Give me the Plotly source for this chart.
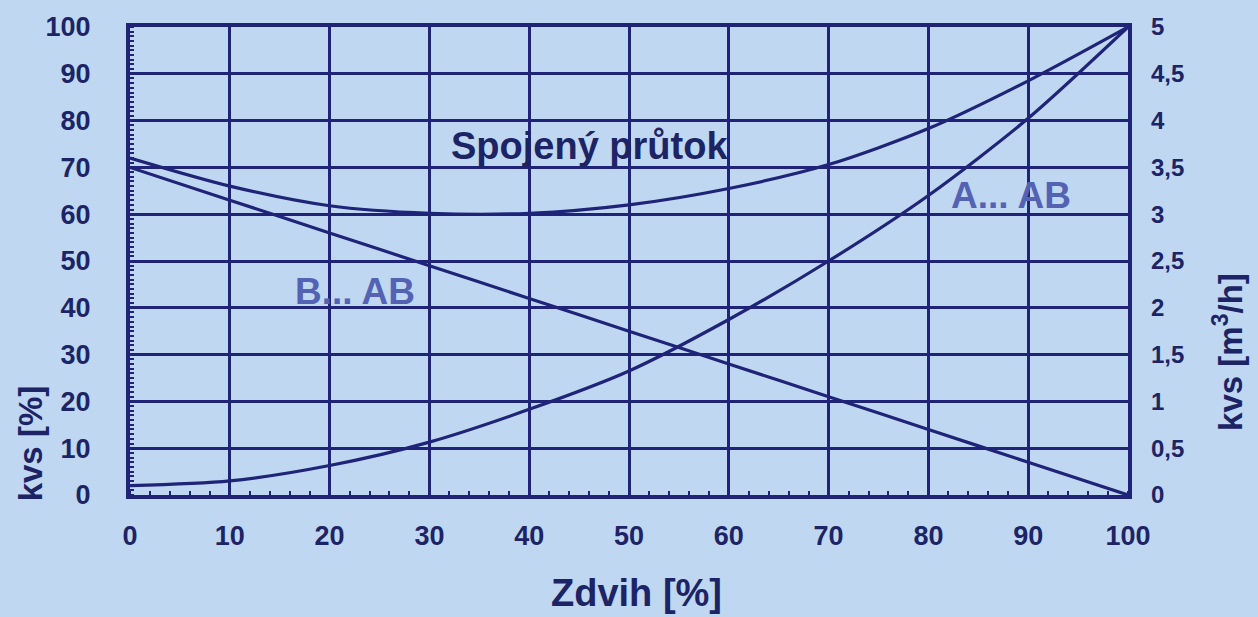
import plotly.graph_objects as go

zdvih = [0, 10, 20, 30, 40, 50, 60, 70, 80, 90, 100]
a_ab = [2, 3, 6.3, 11.3, 18.3, 26.5, 37.5, 50, 64, 80.5, 100]
b_ab = [70, 63, 56, 49, 42, 35, 28, 21, 14, 7, 0]
spojeny = [72, 66, 61.8, 60.2, 60.2, 62, 65.5, 70.6, 78.3, 88.5, 100]

x_ticks = [0, 10, 20, 30, 40, 50, 60, 70, 80, 90, 100]
y_ticks = [0, 10, 20, 30, 40, 50, 60, 70, 80, 90, 100]
y2_ticks = [0, 0.5, 1, 1.5, 2, 2.5, 3, 3.5, 4, 4.5, 5]
y2_labels = ["0", "0,5", "1", "1,5", "2", "2,5", "3", "3,5", "4", "4,5", "5"]

NAVY = "#1f2478"
TEXT = "#1c2466"
LABEL = "#5462b4"
BG = "#bfd7f1"
FONT = "Liberation Sans, Arial, sans-serif"

W, H = 1258, 617
L, R, T, B = 130, 130, 24, 122
pw, ph = W - L - R, H - T - B

fig = go.Figure()
for ys in (b_ab, a_ab, spojeny):
    fig.add_trace(go.Scatter(x=zdvih, y=ys, mode="lines",
                             line=dict(color=NAVY, width=3.2, shape="spline", smoothing=0.8),
                             showlegend=False, hoverinfo="skip"))

fig.add_trace(go.Scatter(x=zdvih, y=[v * 0.05 for v in spojeny], yaxis="y2",
                         mode="lines", line=dict(width=0), opacity=0,
                         showlegend=False, hoverinfo="skip"))

axis_common = dict(showgrid=True, gridcolor=NAVY, gridwidth=2.5,
                   showline=True, linecolor=NAVY, linewidth=4, mirror=True,
                   zeroline=False, ticks="",
                   tickfont=dict(family=FONT, size=27, color=TEXT, weight="bold"))


def px_to_paper(px, py):
    return (px - L) / pw, (H - B - py) / ph


ann_font = dict(family=FONT, color=TEXT, weight="bold")
zx, zy = px_to_paper(636, 594)
lx, ly = px_to_paper(30, 443)
rx, ry = px_to_paper(1228, 351)

fig.update_layout(
    width=W, height=H,
    paper_bgcolor=BG, plot_bgcolor=BG,
    margin=dict(l=L, r=R, t=T, b=B),
    xaxis=dict(range=[0, 100], tickvals=x_ticks, ticklabelstandoff=14,
               minor=dict(ticks="inside", dtick=2, ticklen=4, tickcolor=NAVY, tickwidth=2),
               **axis_common),
    yaxis=dict(range=[0, 100], tickvals=y_ticks, ticklabelstandoff=30,
               minor=dict(ticks="inside", dtick=1, ticklen=4, tickcolor=NAVY, tickwidth=2),
               **axis_common),
    yaxis2=dict(range=[0, 5], overlaying="y", side="right", tickvals=y2_ticks,
                ticktext=y2_labels, showgrid=False, zeroline=False, ticks="",
                ticklabelstandoff=22,
                tickfont=dict(family=FONT, size=24, color=TEXT, weight="bold")),
    annotations=[
        dict(text="Spojený průtok", x=46, y=74.5, xref="x", yref="y", showarrow=False,
             font=dict(family=FONT, size=38, color=TEXT, weight="bold")),
        dict(text="B... AB", x=22.5, y=43.5, xref="x", yref="y", showarrow=False,
             font=dict(family=FONT, size=37, color=LABEL, weight="bold")),
        dict(text="A... AB", x=88.3, y=64, xref="x", yref="y", showarrow=False,
             font=dict(family=FONT, size=37, color=LABEL, weight="bold")),
        dict(text="Zdvih [%]", x=zx, y=zy, xref="paper", yref="paper", showarrow=False,
             xanchor="center", yanchor="middle", font=dict(size=38, **ann_font)),
        dict(text="kvs [%]", x=lx, y=ly, xref="paper", yref="paper", showarrow=False,
             xanchor="center", yanchor="middle",
             textangle=-90, font=dict(size=33, **ann_font)),
        dict(text="kvs [m<sup>3</sup>/h]", x=rx, y=ry, xref="paper", yref="paper",
             xanchor="center", yanchor="middle",
             showarrow=False, textangle=-90, font=dict(size=33, **ann_font)),
    ],
)

fig.write_html("out.html", config={"displayModeBar": False},
               post_script="document.body.style.margin='0';")
